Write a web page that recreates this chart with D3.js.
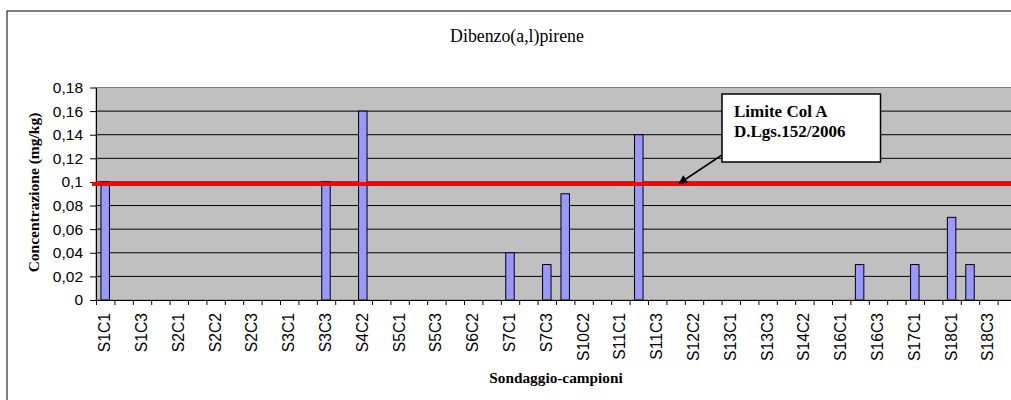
<!DOCTYPE html>
<html><head><meta charset="utf-8">
<script src="https://cdn.jsdelivr.net/npm/d3@7/dist/d3.min.js"></script>
<style>body{margin:0;background:#fff}svg{display:block}
.serif{font-family:"Liberation Serif","Times New Roman",Times,serif}
.sans{font-family:"Liberation Sans",Arial,Helvetica,sans-serif}
</style>
</head><body><svg id="c" width="1011" height="400"></svg>
<script>
const categories = ["S1C1","S1C2","S1C3","S1C4","S2C1","S2C1b","S2C2","S2C2b","S2C3","S2C4",
 "S3C1","S3C2","S3C3","S4C1","S4C2","S4C3","S5C1","S5C2","S5C3","S6C1",
 "S6C2","S6C3","S7C1","S7C2","S7C3","S10C1","S10C2","S10C3","S11C1","S11C2",
 "S11C3","S12C1","S12C2","S12C3","S13C1","S13C2","S13C3","S14C1","S14C2","S14C3",
 "S16C1","S16C2","S16C3","S16C4","S17C1","S17C2","S18C1","S18C2","S18C3","S18C4"];
const values = [0.1,0,0,0,0,0,0,0,0,0,
 0,0,0.1,0,0.16,0,0,0,0,0,
 0,0,0.04,0,0.03,0.09,0,0,0,0.14,
 0,0,0,0,0,0,0,0,0,0,
 0,0.03,0,0,0.03,0,0.07,0.03,0,0];
const yTicks = [0,0.02,0.04,0.06,0.08,0.1,0.12,0.14,0.16,0.18];
const limitValue = 0.1;
const title = "Dibenzo(a,l)pirene";
const yTitle = "Concentrazione (mg/kg)";
const xTitle = "Sondaggio-campioni";
const noteLines = ["Limite Col A","D.Lgs.152/2006"];

const svg = d3.select("#c");
const L = 96, R = 1016, T = 87.5, B = 300;
const loc = d3.formatLocale({decimal:",",thousands:".",grouping:[3],currency:["","€"]});
const fmt = loc.format(".2~f");

const x = d3.scaleBand().domain(categories).range([L,R]).paddingInner(0.54).paddingOuter(0.27);
const xi = d3.scaleLinear().domain([0,categories.length]).range([L,R]);
const y = d3.scaleLinear().domain([0,0.18]).range([B,T]);

svg.append("rect").attr("x",7).attr("y",11).attr("width",1100).attr("height",420)
  .attr("fill","#fff").attr("stroke","#000").attr("stroke-width",1);

svg.append("rect").attr("x",L).attr("y",T).attr("width",R-L).attr("height",B-T)
  .attr("fill","#c0c0c0").attr("stroke","#808080").attr("stroke-width",1);

svg.append("g").selectAll("line").data(yTicks.filter(d=>d>0&&d<0.18)).join("line")
  .attr("x1",L).attr("x2",R).attr("y1",d=>y(d)).attr("y2",d=>y(d))
  .attr("stroke","#000").attr("stroke-width",1);

svg.append("g").selectAll("rect").data(values.map((v,i)=>({c:categories[i],v})).filter(d=>d.v>0)).join("rect")
  .attr("x",d=>x(d.c)).attr("width",x.bandwidth())
  .attr("y",d=>y(d.v)).attr("height",d=>B-y(d.v))
  .attr("fill","#9999ff").attr("stroke","#000").attr("stroke-width",1);

const ya = svg.append("g").attr("transform",`translate(${L},0)`)
  .call(d3.axisLeft(y).tickValues(yTicks).tickFormat(fmt).tickSize(6).tickSizeOuter(0));
ya.attr("font-family",null).attr("font-size",null);
ya.select(".domain").attr("stroke","#000");
ya.selectAll("line").attr("stroke","#000");
ya.selectAll("text").attr("class","sans").style("font-size","15.5px").attr("fill","#000").attr("x",-13);

const xa = svg.append("g").attr("transform",`translate(0,${B})`)
  .call(d3.axisBottom(xi).tickValues(d3.range(0,categories.length+1)).tickFormat("").tickSize(5).tickSizeOuter(0));
xa.select(".domain").attr("stroke","#000");
xa.selectAll("line").attr("stroke","#000");

svg.append("g").selectAll("text").data(categories.filter((d,i)=>i%2===0)).join("text")
  .attr("class","sans")
  .attr("transform",d=>`translate(${x(d)+x.bandwidth()/2+5},${B+13}) rotate(-90)`)
  .attr("text-anchor","end").style("font-size","15.7px").attr("fill","#000")
  .text(d=>d);

svg.append("line").attr("x1",L-4).attr("x2",1011).attr("y1",y(limitValue)+2).attr("y2",y(limitValue)+2)
  .attr("stroke","#ff0000").attr("stroke-width",4);

svg.append("defs").append("marker").attr("id","ah").attr("viewBox","0 0 10 10").attr("refX",9).attr("refY",5)
  .attr("markerWidth",10).attr("markerHeight",9).attr("markerUnits","userSpaceOnUse").attr("orient","auto")
  .append("path").attr("d","M0,0L10,5L0,10z").attr("fill","#000");
svg.append("line").attr("x1",722).attr("y1",155).attr("x2",679).attr("y2",183.5)
  .attr("stroke","#000").attr("stroke-width",1.5).attr("marker-end","url(#ah)");
svg.append("rect").attr("x",722).attr("y",94).attr("width",158.5).attr("height",68)
  .attr("fill","#fff").attr("stroke","#000").attr("stroke-width",1.5);
svg.append("g").selectAll("text").data(noteLines).join("text")
  .attr("class","serif").attr("x",734).attr("y",(d,i)=>117.3+i*20)
  .style("font-weight","bold").style("font-size","17px")
  .text(d=>d);

svg.append("text").attr("class","serif").attr("x",517).attr("y",41.5).attr("text-anchor","middle")
  .style("font-size","17.8px").text(title);
svg.append("text").attr("class","serif").attr("transform",`translate(39,192.5) rotate(-90)`).attr("text-anchor","middle")
  .style("font-weight","bold").style("font-size","15.5px").text(yTitle);
svg.append("text").attr("class","serif").attr("x",(L+R)/2).attr("y",383.3).attr("text-anchor","middle")
  .style("font-weight","bold").style("font-size","15.3px").text(xTitle);
</script></body></html>
